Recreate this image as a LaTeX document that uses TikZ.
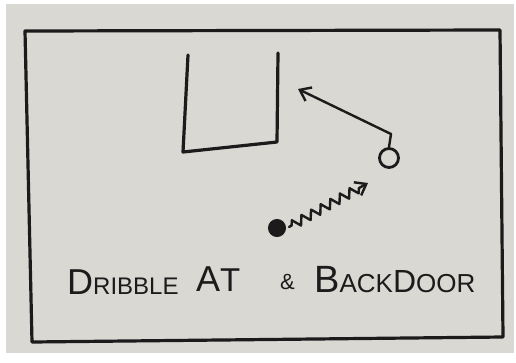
\documentclass[tikz,border=0pt]{standalone}
\usepackage{fontspec}
\setmainfont{Liberation Sans}
\usetikzlibrary{arrows.meta,decorations.pathmorphing}
\definecolor{paper}{RGB}{218,216,210}
\definecolor{ink}{RGB}{28,26,26}
\tikzset{
  pen/.style={draw=ink, line width=3.2pt, line cap=round, line join=round},
  thinpen/.style={draw=ink, line width=2.4pt, line cap=round, line join=round},
  player/.style={circle, draw=ink, line width=2.8pt, minimum size=19pt, inner sep=0pt},
  ball/.style={circle, fill=ink, draw=ink, line width=1pt, minimum size=17pt, inner sep=0pt},
  hand/.style={text=ink, inner sep=0pt, anchor=base west},
  tip/.style={-{Straight Barb[length=10pt,width=15pt,line width=2.4pt]}}
}
\begin{document}
\begin{tikzpicture}[x=1pt,y=-1pt]
\useasboundingbox (0,0) rectangle (516,362);
\fill[white] (0,0) rectangle (516,362);
\fill[paper] (6,4) rectangle (514,353);
% court frame
\draw[pen] (25,31) -- (500,30) -- (503,337) -- (32,342) -- cycle;
% basket / lane
\draw[pen] (188,55) -- (183,152) -- (277,142) -- (278,53);
% player and ball
\node[player] (o) at (389,158) {};
\node[ball] (b) at (277,228) {};
\coordinate (stem) at (391,134);
\coordinate (cut) at (298,89);
\coordinate (drib) at (368,183);
\draw[thinpen] (o.north) -- (stem);
\draw[thinpen, tip] (stem) -- (cut);
\draw[thinpen, tip, decorate, decoration={zigzag, segment length=11pt, amplitude=4.5pt, pre length=3pt, post length=8pt}] (b.east) ++(3,-1) coordinate (bs) (bs) -- (drib);
% caption
\node[hand] (t1) at (67,294) {\fontsize{36}{36}\selectfont D\fontsize{24}{24}\selectfont RIBBLE};
\node[hand] (t2) at (196,291) {\fontsize{36}{36}\selectfont A\fontsize{33}{33}\selectfont T};
\node[hand] (t3) at (280,289) {\fontsize{22}{22}\selectfont\&};
\node[hand] (t4) at (314,292) {\fontsize{38}{38}\selectfont B\fontsize{26}{26}\selectfont ACK\fontsize{32}{32}\selectfont D\fontsize{26}{26}\selectfont OOR};
\end{tikzpicture}
\end{document}
